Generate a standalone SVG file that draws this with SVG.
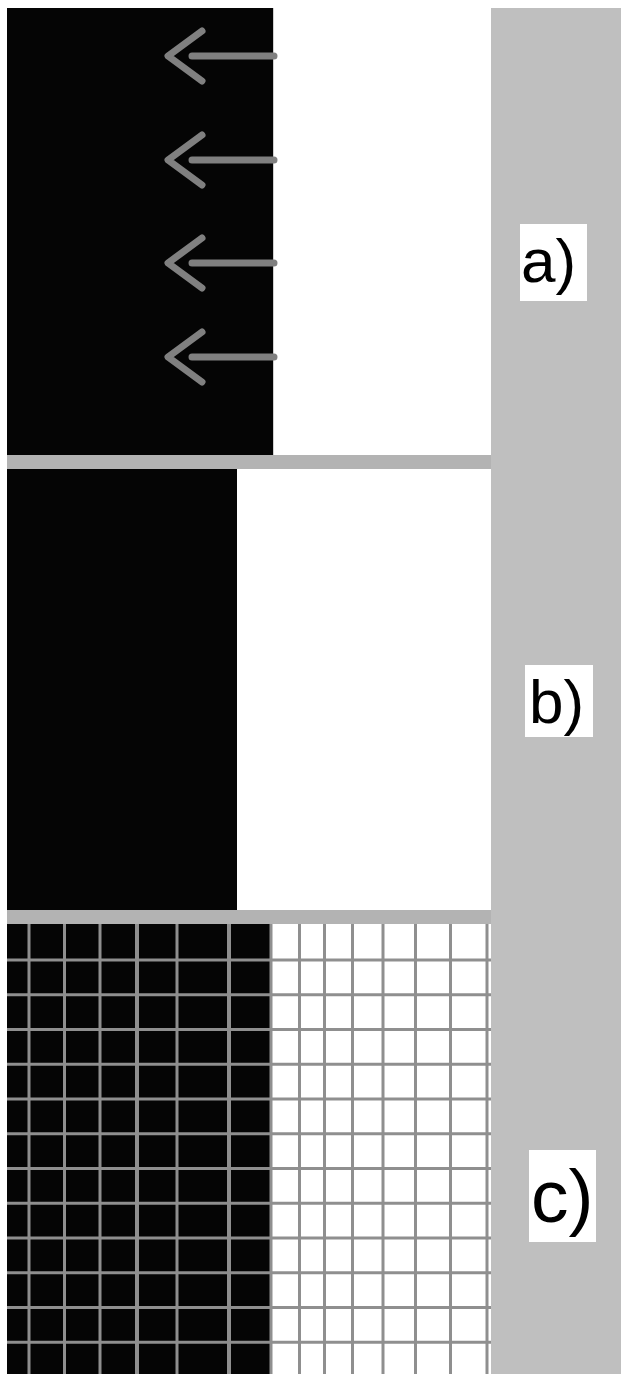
<svg xmlns="http://www.w3.org/2000/svg" width="621" height="1374" viewBox="0 0 621 1374">
  <style>
    .blk { fill: #050505; }
    .sep { fill: #b3b3b3; }
    .col { fill: #bfbfbf; }
    .lblbox { fill: #ffffff; }
    .lbl { font-family: "Liberation Sans", Arial, sans-serif; fill: #000000; }
    .arrow { fill: none; stroke: #808080; stroke-width: 7; stroke-linecap: round; stroke-linejoin: round; }
    .grid { stroke: #8f8f8f; stroke-width: 3; }
    .gridb { stroke: #8f8f8f; stroke-width: 4; }
  </style>
  <rect x="0" y="0" width="621" height="1374" fill="#ffffff"/>
  <rect class="col" x="491" y="8" width="130" height="1366"/>

  <g id="panel-a">
    <rect class="blk" x="7" y="8" width="266" height="447"/>
    <line x1="273.5" y1="8" x2="273.5" y2="455" stroke="#d0d0d0" stroke-width="1"/>
  </g>
  <rect class="sep" x="7" y="455" width="484" height="14"/>

  <g id="panel-b">
    <rect class="blk" x="7" y="469" width="230" height="441"/>
  </g>
  <rect class="sep" x="7" y="910" width="484" height="14"/>

  <g id="panel-c">
    <rect class="blk" x="7" y="924" width="263" height="450"/>
    <g id="grid-h">
      <line class="grid" x1="7" y1="960" x2="491" y2="960"/>
      <line class="grid" x1="7" y1="994.75" x2="491" y2="994.75"/>
      <line class="grid" x1="7" y1="1029.5" x2="491" y2="1029.5"/>
      <line class="grid" x1="7" y1="1064.25" x2="491" y2="1064.25"/>
      <line class="grid" x1="7" y1="1099" x2="491" y2="1099"/>
      <line class="grid" x1="7" y1="1133.75" x2="491" y2="1133.75"/>
      <line class="grid" x1="7" y1="1168.5" x2="491" y2="1168.5"/>
      <line class="grid" x1="7" y1="1203.25" x2="491" y2="1203.25"/>
      <line class="grid" x1="7" y1="1238" x2="491" y2="1238"/>
      <line class="grid" x1="7" y1="1272.75" x2="491" y2="1272.75"/>
      <line class="grid" x1="7" y1="1307.5" x2="491" y2="1307.5"/>
      <line class="grid" x1="7" y1="1342.25" x2="491" y2="1342.25"/>
    </g>
    <g id="grid-v">
      <line class="grid" x1="29" y1="924" x2="29" y2="1374"/>
      <line class="grid" x1="64.5" y1="924" x2="64.5" y2="1374"/>
      <line class="grid" x1="100" y1="924" x2="100" y2="1374"/>
      <line class="gridb" x1="137" y1="924" x2="137" y2="1374"/>
      <line class="grid" x1="177" y1="924" x2="177" y2="1374"/>
      <line class="gridb" x1="229" y1="924" x2="229" y2="1374"/>
      <line class="grid" x1="271" y1="924" x2="271" y2="1374"/>
      <line class="grid" x1="299.5" y1="924" x2="299.5" y2="1374"/>
      <line class="grid" x1="324.5" y1="924" x2="324.5" y2="1374"/>
      <line class="grid" x1="352.5" y1="924" x2="352.5" y2="1374"/>
      <line class="grid" x1="383" y1="924" x2="383" y2="1374"/>
      <line class="grid" x1="415.5" y1="924" x2="415.5" y2="1374"/>
      <line class="grid" x1="450.5" y1="924" x2="450.5" y2="1374"/>
      <line class="grid" x1="487" y1="924" x2="487" y2="1374"/>
    </g>
  </g>

  <g id="connectors">
    <path class="arrow" d="M274,56 H192 M202,31 L168,56 L202,81"/>
    <path class="arrow" d="M274,160 H192 M202,135 L168,160 L202,185"/>
    <path class="arrow" d="M274,263 H192 M202,238 L168,263 L202,288"/>
    <path class="arrow" d="M274,357 H192 M202,332 L168,357 L202,382"/>
  </g>

  <g id="label-a">
    <rect class="lblbox" x="520" y="224" width="67" height="77"/>
    <text class="lbl" x="521" y="282" font-size="62">a)</text>
  </g>
  <g id="label-b">
    <rect class="lblbox" x="525" y="665" width="68" height="72"/>
    <text class="lbl" x="529" y="723" font-size="62">b)</text>
  </g>
  <g id="label-c">
    <rect class="lblbox" x="529" y="1150" width="67" height="92"/>
    <text class="lbl" x="531" y="1222" font-size="75">c)</text>
  </g>
</svg>
